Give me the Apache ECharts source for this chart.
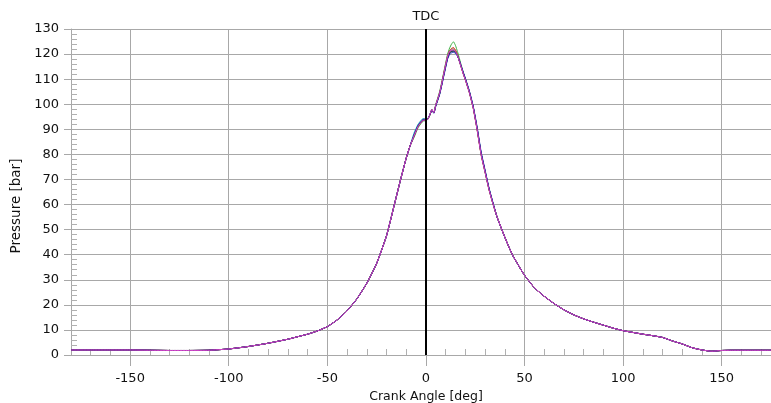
<!DOCTYPE html>
<html>
<head>
<meta charset="utf-8">
<script src="https://cdn.jsdelivr.net/npm/echarts@6/dist/echarts.min.js"></script>
<style>
html,body{margin:0;padding:0;background:#fff;}
#chart{width:771px;height:403px;}
</style>
</head>
<body>
<div id="chart"></div>
<script>
// ---- data ----
const angleLow = [-180,-170,-160,-150,-140,-130,-120,-110,-100,-90,-80,-70,-65,-60,-55,-50,-45,-40,-35,-30,-25,-20,-16,-13,-10,-8];
const pLow     = [2.0,2.0,2.0,2.0,1.9,1.8,1.8,1.9,2.4,3.4,4.7,6.3,7.3,8.3,9.6,11.3,14.0,17.6,22.4,28.6,36.5,47.5,60.0,69.5,78.5,83.5];

const anglePeak = [-6,-4,-2,-1,0,1,2,3,4,5,6,7,8,9,10,11,12,13,14,15,16,17,18,19,20,22,24,26,28,30,32,34];
const cycGreen   = [86.8,90.6,92.8,93.4,93.3,94.0,95.6,97.6,96.8,100.0,102.6,105.2,108.8,112.6,116.4,120.0,122.4,124.0,124.9,123.4,121.0,118.2,115.3,112.6,110.2,105.2,98.8,90.0,80.2,73.2,66.2,60.5];
const cycRed     = [87.5,91.2,93.3,93.8,93.6,94.2,95.8,97.8,96.6,99.6,102.0,104.5,108.0,111.8,115.5,119.0,121.2,122.3,122.6,121.7,119.8,117.2,114.6,112.0,109.8,104.8,98.5,89.8,80.0,73.0,66.0,60.3];
const cycOlive   = [87.2,91.0,93.1,93.6,93.5,94.1,95.8,97.9,96.7,99.7,102.2,104.8,108.3,112.2,116.0,119.5,121.5,122.0,122.1,121.3,119.6,117.0,114.4,111.9,109.6,104.6,98.3,89.5,79.7,72.7,65.8,60.2];
const cycCyan    = [88.6,92.0,94.0,94.3,94.0,94.4,95.9,97.8,96.6,99.5,101.8,104.3,107.8,111.5,115.2,118.6,120.5,121.0,121.0,120.6,119.3,117.2,114.8,112.4,110.1,105.1,98.9,90.3,80.5,73.4,66.4,60.6];
const cycBlack   = [87.6,91.3,93.4,93.9,93.7,94.2,95.7,97.7,96.5,99.4,101.8,104.2,107.7,111.4,115.0,118.4,120.4,121.0,121.2,120.8,119.4,117.2,114.8,112.3,110.0,105.0,98.8,90.2,80.4,73.3,66.3,60.5];
const cycBlue    = [87.8,91.5,93.6,94.0,93.8,94.3,95.8,97.6,96.4,99.2,101.5,104.0,107.4,111.0,114.6,118.0,119.8,120.5,120.7,120.3,119.2,117.4,115.0,112.6,110.4,105.4,99.2,90.8,81.0,73.8,66.6,60.8];
const cycPurple  = [87.5,91.2,93.3,93.8,93.6,94.2,95.7,97.8,96.6,99.6,102.0,104.6,108.0,111.8,115.4,118.8,120.8,121.4,121.5,120.9,119.4,117.1,114.6,112.1,109.9,104.9,98.6,89.9,80.1,73.1,66.1,60.4];
const cycMagenta = [87.4,91.1,93.2,93.7,93.5,94.1,95.9,97.9,96.7,99.8,102.2,104.7,108.2,112.0,115.8,119.2,121.2,121.7,121.8,121.0,119.5,117.0,114.5,111.9,109.7,104.7,98.4,89.6,79.8,72.8,65.9,60.2];

const angleHigh = [36,38,40,42,44,46,48,50,55,60,65,70,75,80,85,90,95,100,105,110,115,120,125,130,135,140,145,150,155,160,165,170,175];
const pHigh     = [55.2,51.0,47.0,43.2,39.7,37.0,34.3,31.8,26.8,23.4,20.5,18.0,16.0,14.4,13.1,11.9,10.7,9.7,9.0,8.3,7.7,7.0,5.6,4.4,2.9,2.0,1.5,1.8,1.9,1.9,1.9,1.9,1.9];

const xMajorTicks = [-150,-100,-50,0,50,100,150];
const xMinorTicks = [-170,-160,-140,-130,-120,-110,-90,-80,-70,-60,-40,-30,-20,-10,10,20,30,40,60,70,80,90,110,120,130,140,160,170];
const yMinorTicks = [2,4,6,8,12,14,16,18,22,24,26,28,32,34,36,38,42,44,46,48,52,54,56,58,62,64,66,68,72,74,76,78,82,84,86,88,92,94,96,98,102,104,106,108,112,114,116,118,122,124,126,128];

const cycles = [
  {name:'Cycle 1', values: cycGreen,   color:'#3cb043'},
  {name:'Cycle 2', values: cycRed,     color:'#d62020'},
  {name:'Cycle 3', values: cycOlive,   color:'#8c7a1e'},
  {name:'Cycle 4', values: cycCyan,    color:'#1aa3b3'},
  {name:'Cycle 5', values: cycBlack,   color:'#1a1a1a'},
  {name:'Cycle 6', values: cycBlue,    color:'#1c2fb8'},
  {name:'Cycle 7', values: cycPurple,  color:'#7a1f8a'},
  {name:'Cycle 8', values: cycMagenta, color:'#d048c8'}
];

function pairs(xs, ys){ return xs.map((x,i)=>[x, ys[i]]); }

const FONT = 'DejaVu Sans';
const GRID = '#a8a8a8';

const series = cycles.map((c) => ({
  name: c.name,
  type: 'line',
  xAxisIndex: 0,
  yAxisIndex: 0,
  showSymbol: false,
  smooth: 0.15,
  lineStyle: {width: 1, color: c.color},
  itemStyle: {color: c.color},
  data: pairs(angleLow, pLow).concat(pairs(anglePeak, c.values), pairs(angleHigh, pHigh)),
  z: 3
}));

series.push({
  name: 'TDC',
  type: 'line',
  data: [],
  markLine: {
    silent: true,
    symbol: ['none','none'],
    lineStyle: {color: '#000', width: 2, type: 'solid'},
    label: {show: true, position: 'end', formatter: 'TDC', color: '#111', fontSize: 13, fontFamily: FONT, distance: 6},
    data: [{xAxis: 0}]
  },
  z: 5
});

const chart = echarts.init(document.getElementById('chart'), null, {renderer: 'canvas'});
chart.setOption({
  animation: false,
  backgroundColor: '#fff',
  grid: {left: 71, right: 0, top: 29, bottom: 48, containLabel: false, outerBoundsMode: 'none'},
  xAxis: [{
    type: 'value', min: -180, max: 175, position: 'bottom',
    name: 'Crank Angle [deg]', nameLocation: 'middle', nameGap: 33,
    nameTextStyle: {fontSize: 12.5, color: '#111', fontFamily: FONT, padding: [0, 0, 0, 10]},
    axisLine: {show: true, onZero: false, lineStyle: {color: GRID, width: 1}},
    axisTick: {show: true, customValues: xMajorTicks, length: 11, lineStyle: {color: GRID}},
    axisLabel: {customValues: xMajorTicks, margin: 17, fontSize: 13, color: '#111', fontFamily: FONT},
    splitLine: {show: true, lineStyle: {color: GRID, width: 1}}
  }, {
    type: 'value', min: -180, max: 175, position: 'bottom', gridIndex: 0,
    axisLine: {show: false, onZero: false},
    axisTick: {show: true, inside: true, customValues: xMinorTicks, length: 6, lineStyle: {color: '#b0b0b0'}},
    axisLabel: {show: false},
    splitLine: {show: false}
  }],
  yAxis: [{
    type: 'value', min: 0, max: 130, interval: 10, position: 'left',
    name: 'Pressure [bar]', nameLocation: 'middle', nameGap: 48,
    nameTextStyle: {fontSize: 13.5, color: '#111', fontFamily: FONT, padding: [0, 28, 0, 0]},
    axisLine: {show: true, onZero: false, lineStyle: {color: GRID, width: 1}},
    axisTick: {show: true, length: 7, lineStyle: {color: GRID}},
    axisLabel: {margin: 12, fontSize: 13, color: '#111', fontFamily: FONT},
    splitLine: {show: true, lineStyle: {color: GRID, width: 1}}
  }, {
    type: 'value', min: 0, max: 130, position: 'left', offset: 0, gridIndex: 0,
    axisLine: {show: false, onZero: false},
    axisTick: {show: true, inside: true, customValues: yMinorTicks, length: 6, lineStyle: {color: '#b0b0b0'}},
    axisLabel: {show: false, customValues: yMinorTicks},
    splitLine: {show: false}
  }],
  series: series
});
</script>
</body>
</html>
